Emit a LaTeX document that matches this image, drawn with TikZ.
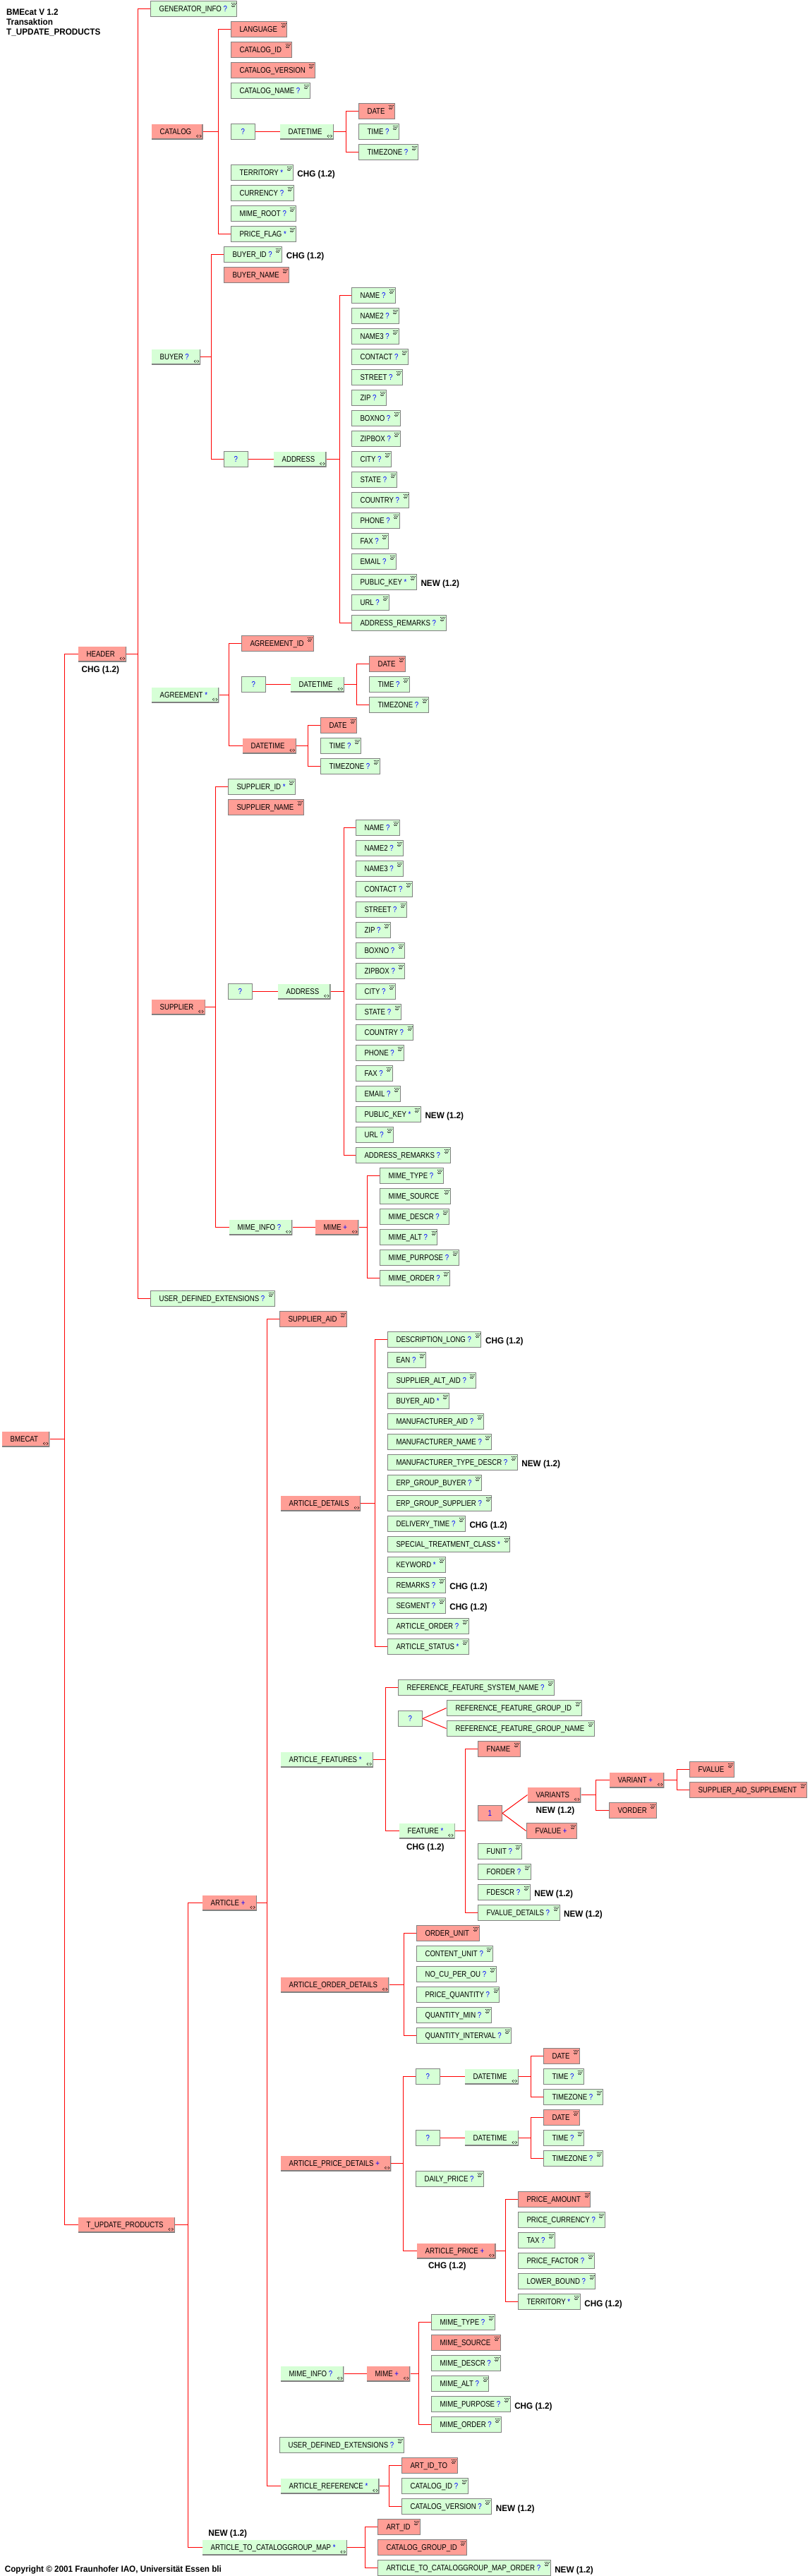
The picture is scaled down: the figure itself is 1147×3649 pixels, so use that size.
\documentclass[tikz,border=0pt]{standalone}
\usepackage{fontspec}
\usetikzlibrary{calc}
\newfontfamily\boxfont[FakeStretch=0.84]{Liberation Sans}
\newfontfamily\annfont[FakeStretch=0.94]{Liberation Sans}
\definecolor{gfill}{RGB}{214,255,214}
\definecolor{rfill}{RGB}{255,158,150}
\definecolor{bgray}{RGB}{128,128,128}
\definecolor{qblue}{RGB}{0,0,255}
\definecolor{lred}{RGB}{255,0,0}
\newcommand\qm[1]{\textcolor{qblue}{#1}}
\newcommand\ry[1]{12.5+round(29*(#1))}
\newcommand\br[4]{%
  \coordinate (v#1) at (#4,0);
  \draw[con] (#2.west) -- (#2.west -| v#1) |- (#3.west);
  \draw[con] (#1.east) -- (#1.east -| v#1);
}
\tikzset{
  con/.style={draw=lred, line width=1bp},
  bfont/.style={font=\boxfont\fontsize{11.5}{13}\selectfont},
  dotsicon/.style={path picture={
    \foreach \dx/\dy in {-8.4/2.7,-6.4/2.7,-4.4/2.7,-2.4/2.7,-7.4/4.4,-5.4/4.4,-3.4/4.4,-8.4/6.1,-6.4/6.1,-4.4/6.1,-7.4/7.8,-5.4/7.8}
      {\fill[black] ($(path picture bounding box.north east)+(\dx,\dy)$) rectangle ++(0.9,0.9);}
  }},
  cxicon/.style={path picture={
    \draw[bgray, line width=2.2bp] (path picture bounding box.south west) -- (path picture bounding box.south east) -- (path picture bounding box.north east);
    \coordinate (ic) at ($(path picture bounding box.south east)+(-5.7,-4.2)$);
    \draw[black, line width=0.45bp] (ic) ++(-1.2,-1.9) -- ++(-2.2,1.9) -- ++(2.2,1.9);
    \draw[black, line width=0.45bp] (ic) ++(1.2,-1.9) -- ++(2.2,1.9) -- ++(-2.2,1.9);
    \fill[black] (ic) circle (0.6bp);
  }},
  leaf/.style={bfont, draw=bgray, line width=1bp, minimum height=22bp, inner xsep=0pt, inner ysep=0pt,
    text height=8.2pt, text depth=0pt, anchor=west,
    execute at begin node={\hspace*{12.6pt}}, execute at end node={\hspace*{14pt}}, dotsicon},
  gl/.style={leaf, fill=gfill},
  rl/.style={leaf, fill=rfill},
  cx/.style={bfont, minimum height=21bp, inner xsep=0pt, inner ysep=0pt,
    text height=8.2pt, text depth=0pt, anchor=west,
    execute at begin node={\hspace*{12pt}}, execute at end node={\hspace*{16.4pt}}, cxicon},
  gc/.style={cx, fill=gfill},
  rc/.style={cx, fill=rfill},
  sq/.style={bfont, draw=bgray, line width=1bp, minimum height=22bp, minimum width=34.5bp, inner sep=0pt,
    text height=8.2pt, text depth=0pt, anchor=west},
  gs/.style={sq, fill=gfill},
  rs/.style={sq, fill=rfill},
  ann/.style={font=\annfont\bfseries\fontsize{12.5}{14}\selectfont, inner sep=0pt, text height=8.95pt, text depth=0pt, anchor=west},
  ttl/.style={font=\annfont\bfseries\fontsize{12.5}{14}\selectfont, inner sep=0pt, anchor=base west}
}
\begin{document}
\begin{tikzpicture}[x=1bp,y=-1bp]
\useasboundingbox (0,0) rectangle (1147,3649);
\fill[white] (0,0) rectangle (1147,3649);

% titles
\node[ttl] (t1) at (9,21.2) {BMEcat V 1.2};
\node[ttl] (t2) at (9,35.2) {Transaktion};
\node[ttl] (t3) at (9,49.2) {T\_UPDATE\_PRODUCTS};
\node[ttl] (copy) at (6.6,3643.5) {Copyright © 2001 Fraunhofer IAO, Universität Essen bli};

% level 0-1
\node[rc] (bme) at (2.5,{\ry{69.875}}) {BMECAT};
\node[rc] (hdr) at (110.5,{\ry{31.5}}) {HEADER};
\node[ann] (hdrn) at ($(hdr.west)+(5,22)$) {CHG (1.2)};
\node[rc] (tup) at (110.5,{\ry{108.25}}) {T\_UPDATE\_PRODUCTS};

% header children
\node[gl] (gi) at (212.5,{\ry{0}}) {GENERATOR\_INFO \qm{?}};
\node[rc] (cat) at (214.5,{\ry{6}}) {CATALOG};
\node[gc] (buy) at (214.5,{\ry{17}}) {BUYER \qm{?}};
\node[gc] (agr) at (214.5,{\ry{33.5}}) {AGREEMENT \qm{*}};
\node[rc] (sup) at (214.5,{\ry{48.75}}) {SUPPLIER};
\node[gl] (ude1) at (212.5,{\ry{63}}) {USER\_DEFINED\_EXTENSIONS \qm{?}};

% catalog
\node[rl] (lang) at (326.5,{\ry{1}}) {LANGUAGE\ };
\node[rl] (catid) at (326.5,{\ry{2}}) {CATALOG\_ID\ };
\node[rl] (catver) at (326.5,{\ry{3}}) {CATALOG\_VERSION\ };
\node[gl] (catname) at (326.5,{\ry{4}}) {CATALOG\_NAME \qm{?}};
\node[gs] (q1) at (326.5,{\ry{6}}) {\qm{?}};
\node[gc] (dt1) at (396.5,{\ry{6}}) {DATETIME};
\node[rl] (date1) at (507.5,{\ry{5}}) {DATE\ };
\node[gl] (time1) at (507.5,{\ry{6}}) {TIME \qm{?}};
\node[gl] (tz1) at (507.5,{\ry{7}}) {TIMEZONE \qm{?}};
\node[gl] (terr1) at (326.5,{\ry{8}}) {TERRITORY \qm{*}};
\node[ann] (terr1n) at ($(terr1.east)+(5.5,2)$) {CHG (1.2)};
\node[gl] (curr) at (326.5,{\ry{9}}) {CURRENCY \qm{?}};
\node[gl] (mroot) at (326.5,{\ry{10}}) {MIME\_ROOT \qm{?}};
\node[gl] (pflag) at (326.5,{\ry{11}}) {PRICE\_FLAG \qm{*}};

% buyer
\node[gl] (bid) at (316.5,{\ry{12}}) {BUYER\_ID \qm{?}};
\node[ann] (bidn) at ($(bid.east)+(5.5,2)$) {CHG (1.2)};
\node[rl] (bname) at (316.5,{\ry{13}}) {BUYER\_NAME\ };
\node[gs] (q2) at (316.5,{\ry{22}}) {\qm{?}};
\node[gc] (addr1) at (387.5,{\ry{22}}) {ADDRESS};
\foreach \nm/\sx [count=\i] in {NAME/?,NAME2/?,NAME3/?,CONTACT/?,STREET/?,ZIP/?,BOXNO/?,ZIPBOX/?,CITY/?,STATE/?,COUNTRY/?,PHONE/?,FAX/?,EMAIL/?,PUBLIC\_KEY/*,URL/?,ADDRESS\_REMARKS/?}
  {\node[gl] (ba\i) at (497.5,{\ry{13+\i}}) {\nm\ \qm{\sx}};}
\node[ann] (ba15n) at ($(ba15.east)+(5.5,2)$) {NEW (1.2)};

% agreement
\node[rl] (agid) at (341.5,{\ry{31}}) {AGREEMENT\_ID\ };
\node[gs] (q3) at (341.5,{\ry{33}}) {\qm{?}};
\node[gc] (dt2) at (411.5,{\ry{33}}) {DATETIME};
\node[rl] (date2) at (522.5,{\ry{32}}) {DATE\ };
\node[gl] (time2) at (522.5,{\ry{33}}) {TIME \qm{?}};
\node[gl] (tz2) at (522.5,{\ry{34}}) {TIMEZONE \qm{?}};
\node[rc] (dt3) at (343.5,{\ry{36}}) {DATETIME};
\node[rl] (date3) at (453.5,{\ry{35}}) {DATE\ };
\node[gl] (time3) at (453.5,{\ry{36}}) {TIME \qm{?}};
\node[gl] (tz3) at (453.5,{\ry{37}}) {TIMEZONE \qm{?}};

% supplier
\node[gl] (sid) at (322.5,{\ry{38}}) {SUPPLIER\_ID \qm{*}};
\node[rl] (sname) at (322.5,{\ry{39}}) {SUPPLIER\_NAME\ };
\node[gs] (q4) at (322.5,{\ry{48}}) {\qm{?}};
\node[gc] (addr2) at (393.5,{\ry{48}}) {ADDRESS};
\foreach \nm/\sx [count=\i] in {NAME/?,NAME2/?,NAME3/?,CONTACT/?,STREET/?,ZIP/?,BOXNO/?,ZIPBOX/?,CITY/?,STATE/?,COUNTRY/?,PHONE/?,FAX/?,EMAIL/?,PUBLIC\_KEY/*,URL/?,ADDRESS\_REMARKS/?}
  {\node[gl] (sa\i) at (503.5,{\ry{39+\i}}) {\nm\ \qm{\sx}};}
\node[ann] (sa15n) at ($(sa15.east)+(5.5,2)$) {NEW (1.2)};
\node[gc] (minfo1) at (324.5,{\ry{59.5}}) {MIME\_INFO \qm{?}};
\node[rc] (mime1) at (446.5,{\ry{59.5}}) {MIME \qm{+}};
\foreach \nm/\sx [count=\i] in {MIME\_TYPE/?,MIME\_SOURCE/,MIME\_DESCR/?,MIME\_ALT/?,MIME\_PURPOSE/?,MIME\_ORDER/?}
  {\node[gl] (ma\i) at (537.5,{\ry{56+\i}}) {\nm\ \qm{\sx}};}

% T_UPDATE_PRODUCTS
\node[rc] (art) at (286.5,{\ry{92.5}}) {ARTICLE \qm{+}};
\node[gc] (a2cg) at (286.5,{\ry{124}}) {ARTICLE\_TO\_CATALOGGROUP\_MAP \qm{*}};
\node[ann] (a2cgn) at ($(a2cg.west)+(8.7,-21)$) {NEW (1.2)};

% article
\node[rl] (said) at (395.5,{\ry{64}}) {SUPPLIER\_AID\ };
\node[rc] (adet) at (397.5,{\ry{73}}) {ARTICLE\_DETAILS};
\node[gc] (afeat) at (397.5,{\ry{85.5}}) {ARTICLE\_FEATURES \qm{*}};
\node[rc] (aod) at (397.5,{\ry{96.5}}) {ARTICLE\_ORDER\_DETAILS};
\node[rc] (apd) at (397.5,{\ry{105.25}}) {ARTICLE\_PRICE\_DETAILS \qm{+}};
\node[gc] (minfo2) at (397.5,{\ry{115.5}}) {MIME\_INFO \qm{?}};
\node[gl] (ude2) at (395.5,{\ry{119}}) {USER\_DEFINED\_EXTENSIONS \qm{?}};
\node[gc] (aref) at (397.5,{\ry{121}}) {ARTICLE\_REFERENCE \qm{*}};

% article details
\node[rl] (d1) at (548.5,{\ry{65}}) {DESCRIPTION\_SHORT\ };
\foreach \nm/\sx [count=\i from 2] in {DESCRIPTION\_LONG/?,EAN/?,SUPPLIER\_ALT\_AID/?,BUYER\_AID/*,MANUFACTURER\_AID/?,MANUFACTURER\_NAME/?,MANUFACTURER\_TYPE\_DESCR/?,ERP\_GROUP\_BUYER/?,ERP\_GROUP\_SUPPLIER/?,DELIVERY\_TIME/?,SPECIAL\_TREATMENT\_CLASS/*,KEYWORD/*,REMARKS/?,SEGMENT/?,ARTICLE\_ORDER/?,ARTICLE\_STATUS/*}
  {\node[gl] (d\i) at (548.5,{\ry{63+\i}}) {\nm\ \qm{\sx}};}
\node[ann] (d2n) at ($(d2.east)+(5.5,2)$) {CHG (1.2)};
\node[ann] (d8n) at ($(d8.east)+(5.5,2)$) {NEW (1.2)};
\node[ann] (d11n) at ($(d11.east)+(5.5,2)$) {CHG (1.2)};
\node[ann] (d14n) at ($(d14.east)+(5.5,2)$) {CHG (1.2)};
\node[ann] (d15n) at ($(d15.east)+(5.5,2)$) {CHG (1.2)};

% article features
\node[gl] (rfsn) at (563.5,{\ry{82}}) {REFERENCE\_FEATURE\_SYSTEM\_NAME \qm{?}};
\node[gs] (q5) at (563.5,{\ry{83.5}}) {\qm{?}};
\node[gl] (rfgi) at (632.5,{\ry{83}}) {REFERENCE\_FEATURE\_GROUP\_ID\ };
\node[gl] (rfgn) at (632.5,{\ry{84}}) {REFERENCE\_FEATURE\_GROUP\_NAME\ };
\node[gc] (feat) at (565.5,{\ry{89}}) {FEATURE \qm{*}};
\node[ann] (featn) at ($(feat.west)+(10.5,22.5)$) {CHG (1.2)};
\node[rl] (fname) at (676.5,{\ry{85}}) {FNAME\ };
\node[rs] (one) at (676.5,{\ry{88.125}}) {\qm{1}};
\node[rc] (vars) at (747.5,{\ry{87.25}}) {VARIANTS};
\node[ann] (varsn) at ($(vars.west)+(12,22)$) {NEW (1.2)};
\node[rl] (fvalp) at (745.5,{\ry{89}}) {FVALUE \qm{+}};
\node[rc] (var) at (863.5,{\ry{86.5}}) {VARIANT \qm{+}};
\node[rl] (vorder) at (862.5,{\ry{88}}) {VORDER\ };
\node[rl] (fval) at (976.5,{\ry{86}}) {FVALUE\ };
\node[rl] (sas) at (976.5,{\ry{87}}) {SUPPLIER\_AID\_SUPPLEMENT\ };
\node[gl] (funit) at (676.5,{\ry{90}}) {FUNIT \qm{?}};
\node[gl] (forder) at (676.5,{\ry{91}}) {FORDER \qm{?}};
\node[gl] (fdescr) at (676.5,{\ry{92}}) {FDESCR \qm{?}};
\node[ann] (fdescrn) at ($(fdescr.east)+(5.5,2)$) {NEW (1.2)};
\node[gl] (fvd) at (676.5,{\ry{93}}) {FVALUE\_DETAILS \qm{?}};
\node[ann] (fvdn) at ($(fvd.east)+(5.5,2)$) {NEW (1.2)};

% article order details
\node[rl] (o1) at (589.5,{\ry{94}}) {ORDER\_UNIT\ };
\foreach \nm/\sx [count=\i from 2] in {CONTENT\_UNIT/?,NO\_CU\_PER\_OU/?,PRICE\_QUANTITY/?,QUANTITY\_MIN/?,QUANTITY\_INTERVAL/?}
  {\node[gl] (o\i) at (589.5,{\ry{93+\i}}) {\nm\ \qm{\sx}};}

% article price details
\node[gs] (q6) at (588.5,{\ry{101}}) {\qm{?}};
\node[gc] (dt4) at (658.5,{\ry{101}}) {DATETIME};
\node[rl] (date4) at (769.5,{\ry{100}}) {DATE\ };
\node[gl] (time4) at (769.5,{\ry{101}}) {TIME \qm{?}};
\node[gl] (tz4) at (769.5,{\ry{102}}) {TIMEZONE \qm{?}};
\node[gs] (q7) at (588.5,{\ry{104}}) {\qm{?}};
\node[gc] (dt5) at (658.5,{\ry{104}}) {DATETIME};
\node[rl] (date5) at (769.5,{\ry{103}}) {DATE\ };
\node[gl] (time5) at (769.5,{\ry{104}}) {TIME \qm{?}};
\node[gl] (tz5) at (769.5,{\ry{105}}) {TIMEZONE \qm{?}};
\node[gl] (dprice) at (588.5,{\ry{106}}) {DAILY\_PRICE \qm{?}};
\node[rc] (aprice) at (590.5,{\ry{109.5}}) {ARTICLE\_PRICE \qm{+}};
\node[ann] (apricen) at ($(aprice.west)+(16.4,20)$) {CHG (1.2)};
\node[rl] (p1) at (733.5,{\ry{107}}) {PRICE\_AMOUNT\ };
\foreach \nm/\sx [count=\i from 2] in {PRICE\_CURRENCY/?,TAX/?,PRICE\_FACTOR/?,LOWER\_BOUND/?,TERRITORY/*}
  {\node[gl] (p\i) at (733.5,{\ry{106+\i}}) {\nm\ \qm{\sx}};}
\node[ann] (p6n) at ($(p6.east)+(5.5,2)$) {CHG (1.2)};

% mime info (article)
\node[rc] (mime2) at (519.5,{\ry{115.5}}) {MIME \qm{+}};
\node[gl] (mb1) at (610.5,{\ry{113}}) {MIME\_TYPE \qm{?}};
\node[rl] (mb2) at (610.5,{\ry{114}}) {MIME\_SOURCE\ };
\node[gl] (mb3) at (610.5,{\ry{115}}) {MIME\_DESCR \qm{?}};
\node[gl] (mb4) at (610.5,{\ry{116}}) {MIME\_ALT \qm{?}};
\node[gl] (mb5) at (610.5,{\ry{117}}) {MIME\_PURPOSE \qm{?}};
\node[ann] (mb5n) at ($(mb5.east)+(5.5,2)$) {CHG (1.2)};
\node[gl] (mb6) at (610.5,{\ry{118}}) {MIME\_ORDER \qm{?}};

% article reference
\node[rl] (rf1) at (568.5,{\ry{120}}) {ART\_ID\_TO\ };
\node[gl] (rf2) at (568.5,{\ry{121}}) {CATALOG\_ID \qm{?}};
\node[gl] (rf3) at (568.5,{\ry{122}}) {CATALOG\_VERSION \qm{?}};
\node[ann] (rf3n) at ($(rf3.east)+(5.5,2)$) {NEW (1.2)};

% article to catalog group map
\node[rl] (cg1) at (534.5,{\ry{123}}) {ART\_ID\ };
\node[rl] (cg2) at (534.5,{\ry{124}}) {CATALOG\_GROUP\_ID\ };
\node[gl] (cg3) at (534.5,{\ry{125}}) {ARTICLE\_TO\_CATALOGGROUP\_MAP\_ORDER \qm{?}};
\node[ann] (cg3n) at ($(cg3.east)+(5.5,2)$) {NEW (1.2)};

% connectors
\br{bme}{hdr}{tup}{91.5}
\br{hdr}{gi}{ude1}{195.5}
\br{cat}{lang}{pflag}{309.5}
\draw[con] (q1.east) -- (dt1.west);
\br{dt1}{date1}{tz1}{490.5}
\br{buy}{bid}{q2}{299.5}
\draw[con] (q2.east) -- (addr1.west);
\br{addr1}{ba1}{ba17}{481.5}
\br{agr}{agid}{dt3}{324.5}
\draw[con] (q3.east) -- (dt2.west);
\br{dt2}{date2}{tz2}{505.5}
\br{dt3}{date3}{tz3}{436.5}
\br{sup}{sid}{minfo1}{305.5}
\draw[con] (q4.east) -- (addr2.west);
\br{addr2}{sa1}{sa17}{487.5}
\draw[con] (minfo1.east) -- (mime1.west);
\br{mime1}{ma1}{ma6}{520.5}
\br{tup}{art}{a2cg}{266.5}
\br{art}{said}{aref}{378.5}
\br{adet}{d1}{d17}{531.5}
\br{afeat}{rfsn}{feat}{546.5}
\draw[con] (q5.east) -- (rfgi.west);
\draw[con] (q5.east) -- (rfgn.west);
\br{feat}{fname}{fvd}{659.5}
\draw[con] (one.east) -- (vars.west);
\draw[con] (one.east) -- (fvalp.west);
\br{vars}{var}{vorder}{844.5}
\br{var}{fval}{sas}{959.5}
\br{aod}{o1}{o6}{572.5}
\br{apd}{q6}{aprice}{571.5}
\draw[con] (q6.east) -- (dt4.west);
\br{dt4}{date4}{tz4}{752.5}
\draw[con] (q7.east) -- (dt5.west);
\br{dt5}{date5}{tz5}{752.5}
\br{aprice}{p1}{p6}{716.5}
\draw[con] (minfo2.east) -- (mime2.west);
\br{mime2}{mb1}{mb6}{593.5}
\br{aref}{rf1}{rf3}{551.5}
\br{a2cg}{cg1}{cg3}{517.5}
\end{tikzpicture}
\end{document}
